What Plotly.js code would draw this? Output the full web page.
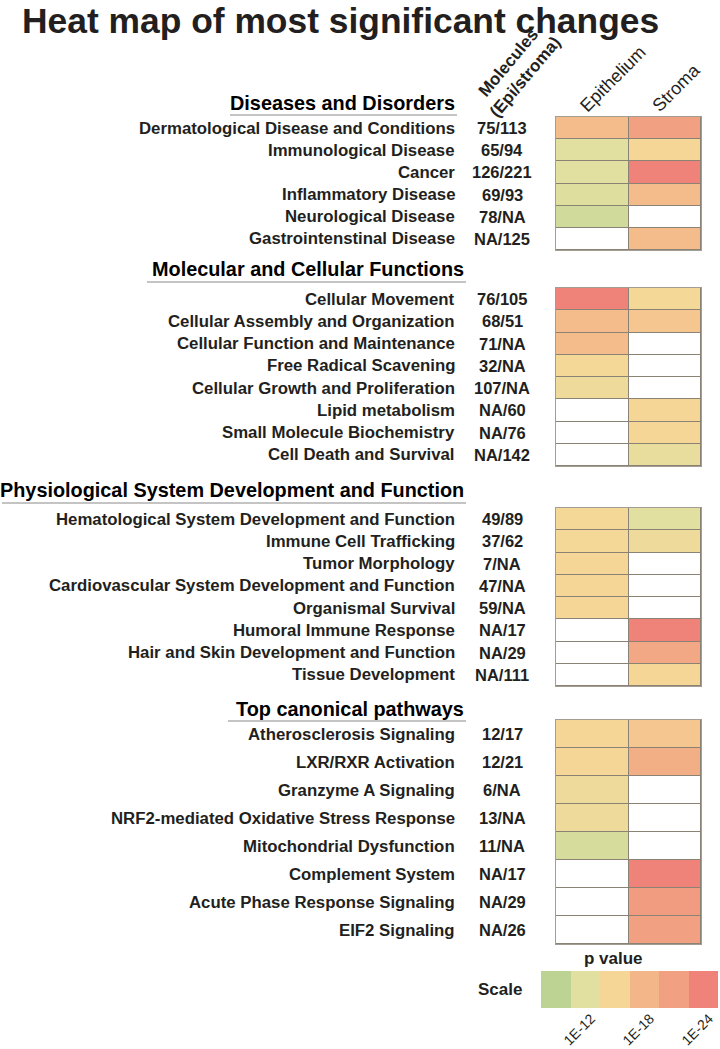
<!DOCTYPE html>
<html><head><meta charset="utf-8">
<script src="https://cdn.plot.ly/plotly-3.0.1.min.js"></script>
<style>html,body{margin:0;padding:0;background:#fff}#chart{width:720px;height:1049px}</style>
</head><body><div id="chart"></div>
<script>
// ---------- DATA ----------
const columns = [0, 1]; // Epithelium, Stroma
const columnNames = ['Epithelium', 'Stroma'];
const sectionTitles = ['Diseases and Disorders', 'Molecular and Cellular Functions',
  'Physiological System Development and Function', 'Top canonical pathways'];

// values are -log10(p); null = NA
const disLabels = ['Dermatological Disease and Conditions', 'Immunological Disease', 'Cancer',
  'Inflammatory Disease', 'Neurological Disease', 'Gastrointenstinal Disease'];
const disCounts = ['75/113', '65/94', '126/221', '69/93', '78/NA', 'NA/125'];
const disEpi = [16, 10.5, 10.5, 10.2, 9, null];
const disStroma = [19.5, 13.5, 22.5, 16, null, 16];

const molLabels = ['Cellular Movement', 'Cellular Assembly and Organization', 'Cellular Function and Maintenance',
  'Free Radical Scavening', 'Cellular Growth and Proliferation', 'Lipid metabolism',
  'Small Molecule Biochemistry', 'Cell Death and Survival'];
const molCounts = ['76/105', '68/51', '71/NA', '32/NA', '107/NA', 'NA/60', 'NA/76', 'NA/142'];
const molEpi = [22.5, 16, 16, 13, 12.3, null, null, null];
const molStroma = [13, 15, null, null, null, 13.5, 13.5, 11.5];

const phyLabels = ['Hematological System Development and Function', 'Immune Cell Trafficking', 'Tumor Morphology',
  'Cardiovascular System Development and Function', 'Organismal Survival', 'Humoral Immune Response',
  'Hair and Skin Development and Function', 'Tissue Development'];
const phyCounts = ['49/89', '37/62', '7/NA', '47/NA', '59/NA', 'NA/17', 'NA/29', 'NA/111'];
const phyEpi = [13, 13, 13.5, 13.5, 13.5, null, null, null];
const phyStroma = [10.5, 12.3, null, null, null, 22.5, 18.5, 13.5];

const canLabels = ['Atherosclerosis Signaling', 'LXR/RXR Activation', 'Granzyme A Signaling',
  'NRF2-mediated Oxidative Stress Response', 'Mitochondrial Dysfunction', 'Complement System',
  'Acute Phase Response Signaling', 'EIF2 Signaling'];
const canCounts = ['12/17', '12/21', '6/NA', '13/NA', '11/NA', 'NA/17', 'NA/29', 'NA/26'];
const canEpi = [13.5, 13.5, 12.3, 12.3, 9.5, null, null, null];
const canStroma = [15, 17.5, null, null, null, 22.5, 20, 19.5];

const scaleEdges = [6, 9, 12, 15, 18, 21, 24];
const scaleColors = ['#bdd394', '#e2e0a0', '#f6d696', '#f3b689', '#f1a181', '#ef837a'];
const scaleTicks = [12, 18, 24];
const scaleTickText = ['1E-12', '1E-18', '1E-24'];

// ---------- LAYOUT GEOMETRY (pixels) ----------
const W = 720, H = 1049;
const px = x => x / W, py = y => 1 - y / H;
const FONT = 'Liberation Sans, Arial, Helvetica, sans-serif';
const TXT = '#231f20';
const gridLeft = 556, gridRight = 701;
const secTop = [117, 288, 508, 720];
const secBottom = [250, 466, 686, 944];
const labelRight = 457, countCenter = 502;
const headRight = [457, 466, 466, 466];
const headY = [103, 269, 490, 709];
const underY = [115, 282, 503, 721];
const underLeft = [230, 147, 2, 228];

const secLabels = [disLabels, molLabels, phyLabels, canLabels];
const secCounts = [disCounts, molCounts, phyCounts, canCounts];
const secEpi = [disEpi, molEpi, phyEpi, canEpi];
const secStroma = [disStroma, molStroma, phyStroma, canStroma];

const zmin = scaleEdges[0], zmax = scaleEdges[scaleEdges.length - 1];
const colorscale = [[0, scaleColors[0]]];
scaleColors.forEach((c, i) => {
  const mid = (scaleEdges[i] + scaleEdges[i + 1]) / 2;
  colorscale.push([(mid - zmin) / (zmax - zmin), c]);
});
colorscale.push([1, scaleColors[scaleColors.length - 1]]);

const traces = [];
const annotations = [];
const shapes = [];
const lineGrey = '#a39d93';
const layout = {
  width: W, height: H,
  margin: {l: 0, r: 0, t: 0, b: 0},
  paper_bgcolor: '#ffffff',
  plot_bgcolor: '#8a8274',
  showlegend: false,
  font: {family: FONT, color: TXT},
  xaxis: {domain: [px(gridLeft), px(gridRight)], range: [-0.5, 1.5], showgrid: false, zeroline: false,
    showticklabels: false, ticks: '', showline: true, mirror: 'all', linecolor: lineGrey, linewidth: 1,
    anchor: 'y', fixedrange: true},
};

secLabels.forEach((labels, s) => {
  const n = labels.length;
  const yname = s === 0 ? 'y' : 'y' + (s + 1);
  const ykey = s === 0 ? 'yaxis' : 'yaxis' + (s + 1);
  layout[ykey] = {domain: [py(secBottom[s]), py(secTop[s])], range: [n - 0.5, -0.5], showgrid: false,
    zeroline: false, showticklabels: false, ticks: '', showline: true, mirror: true, linecolor: lineGrey,
    linewidth: 1, anchor: 'x', fixedrange: true};
  const rows = labels.map((_, i) => i);
  // white base cells (NA shows white)
  traces.push({type: 'heatmap', x: columns, y: rows, z: rows.map(() => [1, 1]), xaxis: 'x', yaxis: yname,
    colorscale: [[0, '#ffffff'], [1, '#ffffff']], showscale: false, xgap: 1, ygap: 1, hoverinfo: 'skip'});
  traces.push({type: 'heatmap', x: columns, y: rows,
    z: rows.map(i => [secEpi[s][i], secStroma[s][i]]), xaxis: 'x', yaxis: yname,
    colorscale: colorscale, zmin: zmin, zmax: zmax, showscale: false, xgap: 1, ygap: 1,
    hoverongaps: false});
  labels.forEach((lab, i) => {
    annotations.push({text: lab, xref: 'paper', x: px(labelRight), xanchor: 'right', yref: yname, y: i,
      yanchor: 'middle', showarrow: false, font: {size: 16.8, family: FONT, color: TXT, weight: 'bold'}});
    annotations.push({text: secCounts[s][i], xref: 'paper', x: px(countCenter), xanchor: 'center', yref: yname,
      y: i, yanchor: 'middle', showarrow: false, font: {size: 16.5, family: FONT, color: TXT, weight: 'bold'}});
  });
  annotations.push({text: sectionTitles[s], xref: 'paper', yref: 'paper', x: px(headRight[s]), xanchor: 'right',
    y: py(headY[s]), yanchor: 'middle', showarrow: false, font: {size: 19.85, family: FONT, color: '#000', weight: 'bold'}});
  shapes.push({type: 'line', xref: 'paper', yref: 'paper', x0: px(underLeft[s]), x1: px(headRight[s]),
    y0: py(underY[s]), y1: py(underY[s]), line: {color: '#8a8a8a', width: 1.2}});
});

// scale
const scaleMids = scaleColors.map((_, i) => (scaleEdges[i] + scaleEdges[i + 1]) / 2);
traces.push({type: 'heatmap', x: scaleEdges, y: [0], z: [scaleMids], xaxis: 'x2', yaxis: 'y5',
  colorscale: colorscale, zmin: zmin, zmax: zmax, showscale: false, hoverinfo: 'skip'});
layout.xaxis2 = {domain: [px(541), px(718)], range: [zmin, zmax], anchor: 'y5', showgrid: false, zeroline: false,
  showticklabels: false, ticks: '', showline: false, fixedrange: true};
layout.yaxis5 = {domain: [py(1008), py(971)], range: [-0.5, 0.5], visible: false, anchor: 'x2', fixedrange: true};
scaleTicks.forEach((t, i) => {
  annotations.push({text: scaleTickText[i], xref: 'x2', x: t, xanchor: 'right', yref: 'paper', y: py(1008),
    yanchor: 'top', textangle: -45, showarrow: false, borderpad: 0,
    font: {size: 14, family: FONT, color: TXT}});
});

// headers
annotations.push({text: 'Heat map of most significant changes', xref: 'paper', yref: 'paper', x: px(340),
  y: py(21), xanchor: 'center', yanchor: 'middle', showarrow: false,
  font: {size: 35.4, family: FONT, color: TXT, weight: 'bold'}});
annotations.push({text: 'Molecules<br>(Epi/stroma)', xref: 'paper', yref: 'paper', x: px(516), y: py(70),
  xanchor: 'center', yanchor: 'middle', textangle: -50, showarrow: false,
  font: {size: 17, family: FONT, color: TXT, weight: 'bold'}});
annotations.push({text: columnNames[0], xref: 'paper', yref: 'paper', x: px(613), y: py(79),
  xanchor: 'center', yanchor: 'middle', textangle: -45, showarrow: false,
  font: {size: 18, family: FONT, color: TXT}});
annotations.push({text: columnNames[1], xref: 'paper', yref: 'paper', x: px(676), y: py(88),
  xanchor: 'center', yanchor: 'middle', textangle: -45, showarrow: false,
  font: {size: 18, family: FONT, color: TXT}});
annotations.push({text: 'p value', xref: 'paper', yref: 'paper', x: px(613), y: py(958),
  xanchor: 'center', yanchor: 'middle', showarrow: false,
  font: {size: 17, family: FONT, color: TXT, weight: 'bold'}});
annotations.push({text: 'Scale', xref: 'paper', yref: 'paper', x: px(500), y: py(989),
  xanchor: 'center', yanchor: 'middle', showarrow: false,
  font: {size: 17, family: FONT, color: TXT, weight: 'bold'}});

layout.annotations = annotations;
layout.shapes = shapes;
Plotly.newPlot('chart', traces, layout, {staticPlot: true, displayModeBar: false});
</script>
</body></html>
